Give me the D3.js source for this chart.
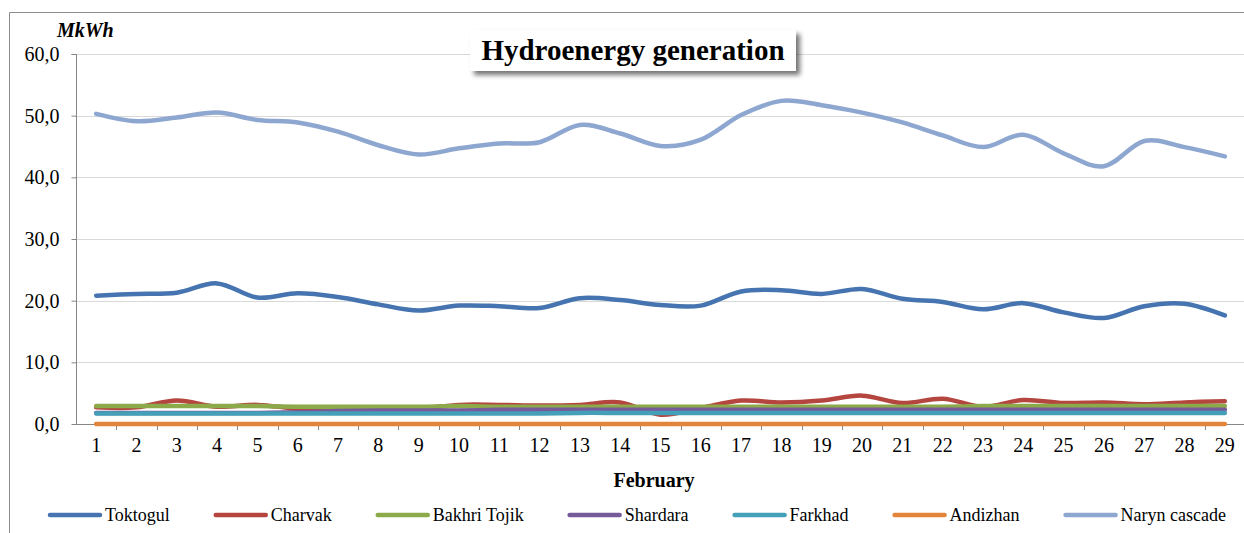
<!DOCTYPE html>
<html><head><meta charset="utf-8">
<script src="https://cdn.jsdelivr.net/npm/d3@7"></script>
<style>body{margin:0;background:#fff}svg{display:block}svg text{font-family:"Liberation Serif","Times New Roman",serif}</style>
</head><body>
<svg id="c" width="1244" height="533"></svg>
<script>
const days = d3.range(1, 30).map(String);
const yTicks = [0, 10, 20, 30, 40, 50, 60];
const seriesNames = ["Toktogul","Charvak","Bakhri Tojik","Shardara","Farkhad","Andizhan","Naryn cascade"];
const seriesColors = ["#4674B0","#B4463F","#8DAA4B","#765A9A","#449FB8","#E3843B","#8EA7D0"];
const toktogul = [20.8,21.1,21.3,22.8,20.5,21.2,20.6,19.4,18.4,19.2,19.1,18.8,20.4,20.1,19.3,19.2,21.5,21.7,21.1,21.9,20.3,19.8,18.6,19.6,18.1,17.2,19.1,19.5,17.6];
const charvak = [2.7,2.7,3.8,2.8,3.1,2.5,2.4,2.4,2.5,3.1,3.1,3.0,3.1,3.5,1.5,2.6,3.8,3.5,3.8,4.6,3.4,4.1,2.8,3.9,3.4,3.5,3.2,3.5,3.7];
const bakhriTojik = [2.9,2.9,2.9,2.9,2.9,2.8,2.8,2.8,2.8,2.9,2.8,2.8,2.8,2.8,2.8,2.8,2.8,2.8,2.8,2.8,2.8,2.8,2.9,2.9,2.9,2.9,2.9,2.9,2.9];
const shardara = [1.8,1.8,1.8,1.8,1.8,1.9,2.1,2.2,2.2,2.2,2.3,2.3,2.3,2.3,2.3,2.3,2.3,2.3,2.3,2.3,2.3,2.3,2.3,2.3,2.3,2.3,2.3,2.3,2.3];
const farkhad = [1.7,1.7,1.7,1.7,1.7,1.7,1.7,1.7,1.7,1.7,1.7,1.7,1.8,1.8,1.8,1.8,1.8,1.8,1.8,1.8,1.8,1.8,1.8,1.8,1.8,1.8,1.8,1.8,1.8];
const andizhan = [0,0,0,0,0,0,0,0,0,0,0,0,0,0,0,0,0,0,0,0,0,0,0,0,0,0,0,0,0];
const narynCascade = [50.3,49.1,49.7,50.5,49.3,48.9,47.4,45.2,43.7,44.7,45.5,45.7,48.5,47.1,45.1,46.1,50.1,52.4,51.7,50.5,48.9,46.8,44.9,46.9,43.9,41.8,45.9,44.9,43.4];
const seriesValues = [toktogul, charvak, bakhriTojik, shardara, farkhad, andizhan, narynCascade];

const svg = d3.select("#c");
const font = '"Liberation Serif","Times New Roman",serif';
const L = 76, R = 1245, T = 54, B = 424;

svg.append("path").attr("d", `M9.5,533 V12.5 H1244`).attr("fill","none").attr("stroke","#8c8c8c").attr("stroke-width",1);

const x = d3.scaleBand().domain(days).range([L, R]).padding(0);
const y = d3.scaleLinear().domain([0, 60]).range([B, T]);

svg.append("g").selectAll("line").data(yTicks.filter(v => v > 0)).join("line")
  .attr("x1", L).attr("x2", R).attr("y1", d => Math.round(y(d)) + 0.5).attr("y2", d => Math.round(y(d)) + 0.5)
  .attr("stroke", "#d9d9d9").attr("stroke-width", 1);

const yAxis = d3.axisLeft(y).tickValues(yTicks).tickSize(5).tickPadding(12)
  .tickFormat(d => d3.format(".1f")(d).replace(".", ","));
const gy = svg.append("g").attr("transform", `translate(${L + 0.5},0)`).call(yAxis);
gy.attr("font-family", null);
gy.select(".domain").attr("stroke", "#868686").attr("d", `M-5,${Math.round(T)+0.5}H0V${B}`);
gy.selectAll(".tick line").attr("stroke", "#868686");
gy.selectAll(".tick text").style("font-family", font).style("font-size", "20px").attr("fill", "#000");

const xAxis = d3.axisBottom(x).tickSize(0).tickPadding(13);
const gx = svg.append("g").attr("transform", `translate(0,${B + 0.5})`).call(xAxis);
gx.attr("font-family", null);
gx.select(".domain").attr("stroke", "#868686").attr("d", `M${L},0H${R}`);
gx.selectAll(".tick text").style("font-family", font).style("font-size", "20px").attr("fill", "#000");
svg.append("g").selectAll("line").data(days).join("line")
  .attr("x1", d => Math.round(x(d) + x.bandwidth()) + 0.5).attr("x2", d => Math.round(x(d) + x.bandwidth()) + 0.5)
  .attr("y1", B).attr("y2", B + 6).attr("stroke", "#868686");

const line = d3.line().x((d, i) => x(days[i]) + x.bandwidth() / 2).y(d => y(d)).curve(d3.curveCatmullRom.alpha(0));
svg.append("g").selectAll("path").data(seriesValues).join("path")
  .attr("d", d => line(d)).attr("fill", "none")
  .attr("stroke", (d, i) => seriesColors[i]).attr("stroke-width", 4.5)
  .attr("stroke-linecap", "round").attr("stroke-linejoin", "round");

svg.append("text").attr("x", 57).attr("y", 37).style("font-family", font).style("font-size", "20px")
  .style("font-weight", "bold").style("font-style", "italic").text("MkWh");

svg.append("text").attr("x", 654).attr("y", 487).attr("text-anchor", "middle").style("font-family", font)
  .style("font-size", "20px").style("font-weight", "bold").text("February");

const defs = svg.append("defs");
const f = defs.append("filter").attr("id", "sh").attr("x", "-10%").attr("y", "-30%").attr("width", "130%").attr("height", "180%");
f.append("feGaussianBlur").attr("in", "SourceAlpha").attr("stdDeviation", 2.5);
f.append("feOffset").attr("dx", 4).attr("dy", 4).attr("result", "b");
f.append("feComponentTransfer").append("feFuncA").attr("type", "linear").attr("slope", 0.55);
const fm = f.append("feMerge"); fm.append("feMergeNode"); fm.append("feMergeNode").attr("in", "SourceGraphic");
svg.append("rect").attr("x", 470).attr("y", 30).attr("width", 326).attr("height", 41)
  .attr("fill", "#fff").attr("filter", "url(#sh)");
svg.append("text").attr("x", 633).attr("y", 60).attr("text-anchor", "middle").style("font-family", font)
  .style("font-size", "29px").style("font-weight", "bold").text("Hydroenergy generation");

const lg = svg.append("g");
let lx = 48;
seriesNames.forEach((name, i) => {
  lg.append("line").attr("x1", lx + 2).attr("x2", lx + 52).attr("y1", 515).attr("y2", 515)
    .attr("stroke", seriesColors[i]).attr("stroke-width", 4.5).attr("stroke-linecap", "round");
  const t = lg.append("text").attr("x", lx + 57).attr("y", 521).style("font-family", font)
    .style("font-size", "18px").text(name);
  lx += 57 + t.node().getComputedTextLength() + 44;
});
</script>
</body></html>
